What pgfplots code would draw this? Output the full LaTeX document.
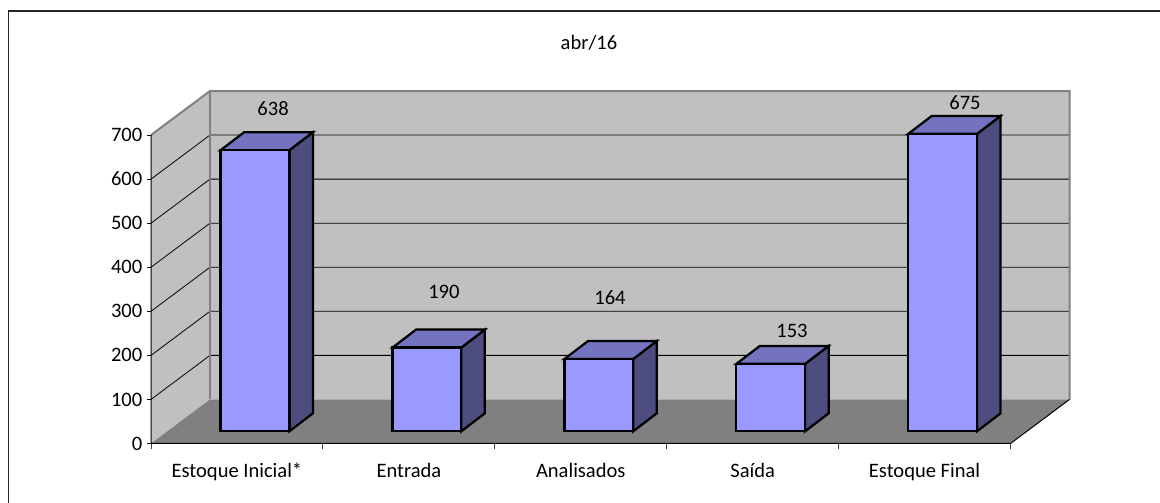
\documentclass[border=0pt]{standalone}
\usepackage{fontspec}
\setmainfont{Carlito}
\usepackage{pgfplots}
\usepackage{pgfplotstable}
\pgfplotsset{compat=1.18}

\definecolor{wall}{HTML}{C0C0C0}
\definecolor{floorc}{HTML}{808080}
\definecolor{barfront}{HTML}{9999FF}
\definecolor{bartop}{HTML}{7373BF}
\definecolor{barside}{HTML}{4D4D80}

% data labels sit where they were placed by hand in the original
\pgfplotstableread{
x y v
0.710 761 638
1.704 344 190
2.670 332 164
3.729 255 153
4.735 773 675
}\labels

% depth of the chart: 0.3432 categories to the right, 100 units up
\newcommand{\dx}{0.3432}
\newcommand{\threedbar}[2]{%
  \pgfmathsetmacro{\xa}{#1+0.405}
  \pgfmathsetmacro{\xb}{#1+0.805}
  \pgfmathsetmacro{\xc}{#1+0.942}
  \pgfmathsetmacro{\xd}{#1+0.542}
  \pgfmathsetmacro{\ya}{27.7}
  \pgfmathsetmacro{\yb}{27.7+#2}
  \pgfmathsetmacro{\yc}{68.5}
  \pgfmathsetmacro{\yd}{68.5+#2}
  \addplot[barline,fill=barside] coordinates {(\xb,\ya) (\xc,\yc) (\xc,\yd) (\xb,\yb)} -- cycle;
  \addplot[barline,fill=bartop] coordinates {(\xa,\yb) (\xb,\yb) (\xc,\yd) (\xd,\yd)} -- cycle;
  \addplot[barline,fill=barfront] coordinates {(\xa,\ya) (\xb,\ya) (\xb,\yb) (\xa,\yb)} -- cycle;
}
\tikzset{barline/.style={draw=black,line width=1.7pt,line join=miter}}

\begin{document}
\begin{tikzpicture}
\path[use as bounding box] (0,0) rectangle (870pt,377.25pt);
\draw[black!85,line width=1pt] (6.4pt,0) -- (6.4pt,369pt) -- (870pt,369pt);
\begin{axis}[
    at={(113.25pt,44.625pt)},
    anchor=origin,
    scale only axis,
    width=689.25pt,
    height=264.375pt,
    xmin=0, xmax=5.346,
    ymin=0, ymax=800,
    clip=false,
    axis line style={draw=none},
    axis x line*=bottom,
    axis y line*=left,
    tick align=outside,
    xtick={0.5,1.5,2.5,3.5,4.5},
    xticklabels={Estoque Inicial*,Entrada,Analisados,Saída,Estoque Final},
    minor xtick={0,1,2,3,4,5},
    major x tick style={draw=none},
    minor x tick style={draw=black!75,line width=0.75pt},
    minor tick length=4.5pt,
    ytick={0,100,...,700},
    major y tick style={draw=black,line width=0.75pt},
    major tick length=3pt,
    tick label style={font=\fontsize{15.4}{18}\selectfont},
    /pgf/number format/assume math mode=true,
    xticklabel style={yshift=-8pt},
    title={abr/16},
    title style={font=\fontsize{15.4}{18}\selectfont,at={(rel axis cs:0.4766,1)},yshift=21pt},
]
% walls and floor
\addplot[fill=wall,draw=none] coordinates {(\dx,100) (5.3432,100) (5.3432,800) (\dx,800)} -- cycle;
\addplot[fill=wall,draw=none] coordinates {(0,0) (\dx,100) (\dx,800) (0,700)} -- cycle;
\addplot[fill=floorc,draw=none] coordinates {(0,0) (5,0) (5.3432,100) (\dx,100)} -- cycle;
% gridlines
\addplot[black,line width=0.6pt] coordinates {(0,100) (\dx,200) (5.3432,200)};
\addplot[black,line width=0.6pt] coordinates {(0,200) (\dx,300) (5.3432,300)};
\addplot[black,line width=0.6pt] coordinates {(0,300) (\dx,400) (5.3432,400)};
\addplot[black,line width=0.6pt] coordinates {(0,400) (\dx,500) (5.3432,500)};
\addplot[black,line width=0.6pt] coordinates {(0,500) (\dx,600) (5.3432,600)};
\addplot[black,line width=0.6pt] coordinates {(0,600) (\dx,700) (5.3432,700)};
% wall borders
\addplot[floorc,line width=1.5pt] coordinates {(0,700) (\dx,800) (5.3432,800) (5.3432,100)};
\addplot[floorc,line width=1.5pt] coordinates {(\dx,800) (\dx,100)};
% axis lines
\addplot[black,line width=0.75pt] coordinates {(0,700) (0,0) (5,0) (5.3432,100)};
% bars
\threedbar{0}{638}
\threedbar{1}{190}
\threedbar{2}{164}
\threedbar{3}{153}
\threedbar{4}{675}
% data labels
\addplot[draw=none,mark=none,nodes near coords,point meta=explicit,
    every node near coord/.style={font=\fontsize{15.4}{18}\selectfont,anchor=center,
      /pgf/number format/assume math mode=true}]
    table[x=x,y=y,meta=v] {\labels};
\end{axis}
\end{tikzpicture}
\end{document}
